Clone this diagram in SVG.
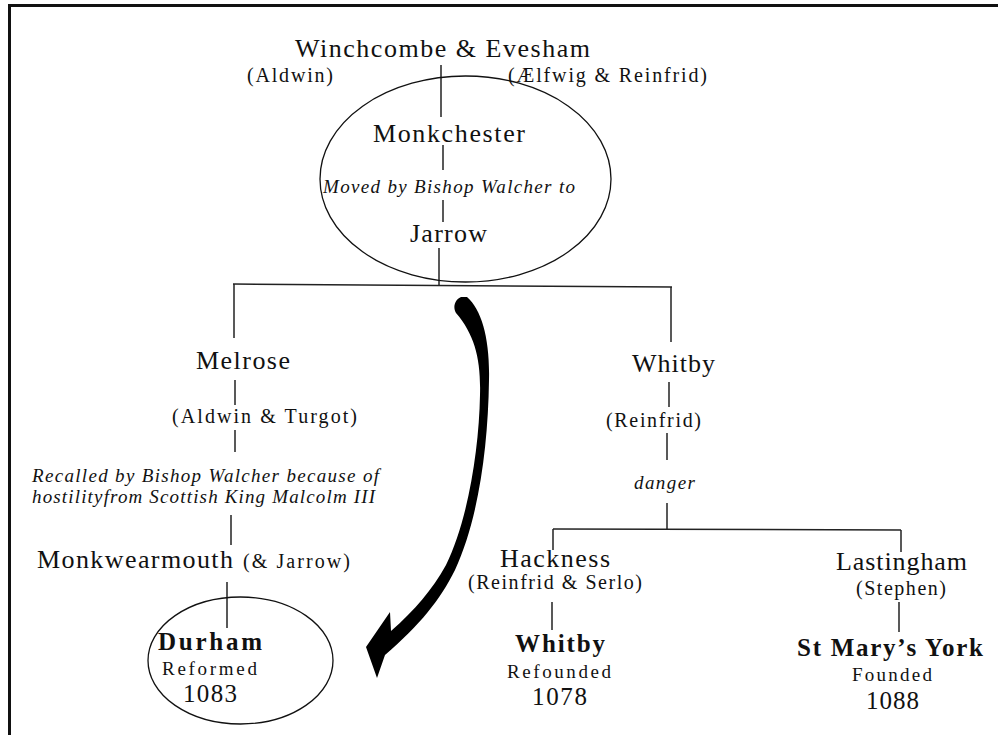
<svg xmlns="http://www.w3.org/2000/svg" width="998" height="735" viewBox="0 0 998 735">
<style>
text{font-family:"Liberation Serif","Times New Roman",serif;fill:#111;}
.m{font-size:26px;}
.p{font-size:20px;}
.i{font-size:19px;font-style:italic;}
.b{font-size:25px;font-weight:bold;}
.y{font-size:25px;}
.s{font-size:19px;}
.c line{stroke:#222;stroke-width:1.5;}
.ring{fill:none;stroke:#111;stroke-width:1.3;}
</style>
<rect x="0" y="0" width="998" height="735" fill="#fff"/>
<g id="frame" stroke="#111" stroke-width="3">
<line x1="8" y1="5.5" x2="998" y2="5.5"/>
<line x1="9.5" y1="4" x2="9.5" y2="735"/>
</g>
<g id="connectors" class="c">
<line x1="441" y1="65" x2="441" y2="117"/>
<line x1="443" y1="145" x2="443" y2="170"/>
<line x1="443" y1="200" x2="443" y2="222"/>
<line x1="439" y1="248" x2="439" y2="285"/>
<line x1="233" y1="284" x2="672" y2="287"/>
<line x1="234" y1="284" x2="234" y2="338"/>
<line x1="671" y1="287" x2="671" y2="342"/>
<line x1="235" y1="380" x2="235" y2="405"/>
<line x1="235" y1="430" x2="235" y2="452"/>
<line x1="231" y1="515" x2="231" y2="545"/>
<line x1="227" y1="582" x2="227" y2="628"/>
<line x1="669" y1="382" x2="669" y2="407"/>
<line x1="667" y1="433" x2="667" y2="460"/>
<line x1="667" y1="503" x2="667" y2="530"/>
<line x1="553" y1="529" x2="901" y2="530"/>
<line x1="553" y1="529" x2="553" y2="550"/>
<line x1="901" y1="530" x2="901" y2="552"/>
<line x1="552" y1="602" x2="552" y2="630"/>
<line x1="899" y1="602" x2="899" y2="632"/>
<path id="bigArrow" d="M 467 297 C 482 310, 490 340, 489 380 C 488 450, 478 520, 455 570 C 440 600, 420 625, 385 655 L 377 678 L 366 647 L 390 612 L 391 631 C 415 610, 432 590, 446 565 C 468 520, 479 450, 480 395 C 481 360, 475 335, 456 313 C 452 306, 456 299, 461 297 Z" fill="#000" stroke="none"/>
</g>
<g id="winchcombe">
<text class="m" x="295" y="57" textLength="295" lengthAdjust="spacing">Winchcombe &amp; Evesham</text>
<text class="p" x="247" y="82" textLength="86" lengthAdjust="spacing">(Aldwin)</text>
<text class="p" x="508" y="82" textLength="199" lengthAdjust="spacing">(Ælfwig &amp; Reinfrid)</text>
</g>
<g id="monkchester">
<ellipse class="ring" cx="465.5" cy="179" rx="145.5" ry="103"/>
<text class="m" x="373" y="142" textLength="152" lengthAdjust="spacing">Monkchester</text>
<text class="i" x="323" y="193" textLength="252" lengthAdjust="spacing">Moved by Bishop Walcher to</text>
</g>
<g id="jarrow">
<text class="m" x="410" y="242" textLength="77" lengthAdjust="spacing">Jarrow</text>
</g>
<g id="melrose">
<text class="m" x="196" y="369" textLength="94" lengthAdjust="spacing">Melrose</text>
<text class="p" x="172" y="423" textLength="185" lengthAdjust="spacing">(Aldwin &amp; Turgot)</text>
<text class="i" x="32" y="482" textLength="347" lengthAdjust="spacing">Recalled by Bishop Walcher because of</text>
<text class="i" x="32" y="503" textLength="343" lengthAdjust="spacing">hostilityfrom Scottish King Malcolm III</text>
</g>
<g id="monkwearmouth">
<text class="m" x="37" y="568" textLength="196" lengthAdjust="spacing">Monkwearmouth</text>
<text class="p" x="243" y="568" textLength="107" lengthAdjust="spacing">(&amp; Jarrow)</text>
</g>
<g id="durham">
<ellipse class="ring" cx="240.5" cy="660.5" rx="92.5" ry="63.5"/>
<text class="b" x="158" y="650" textLength="104" lengthAdjust="spacing">Durham</text>
<text class="s" x="162" y="675" textLength="95" lengthAdjust="spacing">Reformed</text>
<text class="y" x="183" y="702" textLength="54" lengthAdjust="spacing">1083</text>
</g>
<g id="whitby">
<text class="m" x="632" y="372" textLength="83" lengthAdjust="spacing">Whitby</text>
<text class="p" x="606" y="427" textLength="95" lengthAdjust="spacing">(Reinfrid)</text>
<text class="i" x="634" y="489" textLength="61" lengthAdjust="spacing">danger</text>
</g>
<g id="hackness">
<text class="m" x="500" y="567" textLength="110" lengthAdjust="spacing">Hackness</text>
<text class="p" x="468" y="589" textLength="174" lengthAdjust="spacing">(Reinfrid &amp; Serlo)</text>
</g>
<g id="whitby-refounded">
<text class="b" x="515" y="652" textLength="90" lengthAdjust="spacing">Whitby</text>
<text class="s" x="507" y="678" textLength="104" lengthAdjust="spacing">Refounded</text>
<text class="y" x="532" y="705" textLength="55" lengthAdjust="spacing">1078</text>
</g>
<g id="lastingham">
<text class="m" x="836" y="570" textLength="131" lengthAdjust="spacing">Lastingham</text>
<text class="p" x="856" y="595" textLength="90" lengthAdjust="spacing">(Stephen)</text>
</g>
<g id="st-marys-york">
<text class="b" x="797" y="656" textLength="186" lengthAdjust="spacing">St Mary’s York</text>
<text class="s" x="852" y="681" textLength="80" lengthAdjust="spacing">Founded</text>
<text class="y" x="866" y="709" textLength="53" lengthAdjust="spacing">1088</text>
</g>
</svg>
